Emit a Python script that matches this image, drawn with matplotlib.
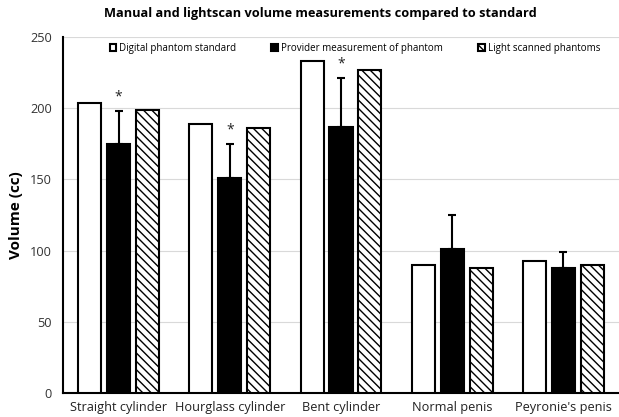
import matplotlib
matplotlib.use("Agg")
import matplotlib.pyplot as plt
import numpy as np

plt.rcParams['font.family'] = ['Open Sans', 'DejaVu Sans']
plt.rcParams['hatch.linewidth'] = 1.0

categories = ["Straight cylinder", "Hourglass cylinder", "Bent cylinder", "Normal penis", "Peyronie's penis"]
standard = [204, 189, 233, 90, 92.5]
provider = [175, 151, 187, 101, 88]
provider_err = [23, 24, 34, 24, 11]
lightscan = [199, 186, 227, 88, 90]
significant = [True, True, True, False, False]

fig = plt.figure(figsize=(6.19, 4.17), dpi=100)
ax = fig.add_axes([63/619, 1-393/417, 1-63/619, 356/417])

x = np.arange(len(categories))
w = 0.207
off = 0.26
ax.bar(x - off, standard, w, color='white', edgecolor='black', linewidth=1.5,
       label='Digital phantom standard', zorder=3)
ax.bar(x, provider, w, color='black', edgecolor='black', linewidth=1.5,
       label='Provider measurement of phantom', zorder=3)
ax.errorbar(x, provider, yerr=[np.zeros(len(x)), provider_err], fmt='none',
            ecolor='black', elinewidth=1.5, capsize=3, capthick=1.5, zorder=4)
ax.bar(x + off, lightscan, w, color='white', edgecolor='black', linewidth=1.5,
       hatch='\\\\\\\\', label='Light scanned phantoms', zorder=3)

for xi, p, e, s in zip(x, provider, provider_err, significant):
    if s:
        ax.text(xi, p + e + 10, '*', ha='center', va='center', fontsize=10,
                color='#222222', zorder=5)

ax.set_xlim(-0.5, len(categories) - 0.5)
ax.set_ylim(0, 250)
ax.set_yticks([0, 50, 100, 150, 200, 250])
ax.set_xticks(x)
ax.set_xticklabels(categories, fontsize=9.2, color='#222222')
ax.tick_params(axis='y', labelsize=9.2, length=0, pad=8, colors='#333333')
ax.tick_params(axis='x', length=0, pad=6)
ax.grid(axis='y', color='#d9d9d9', linewidth=0.8, zorder=0)
for s in ['top', 'right']:
    ax.spines[s].set_visible(False)
ax.spines['left'].set_linewidth(1.5)
ax.spines['bottom'].set_linewidth(1.5)
ax.set_ylabel('Volume (cc)', fontsize=11, fontweight='bold', labelpad=5)
fig.text(320/619, 1-14/417, 'Manual and lightscan volume measurements compared to standard',
         fontsize=9.2, fontweight='bold', ha='center', va='center')
leg = ax.legend(loc='upper center', bbox_to_anchor=(0.525, 1.008), ncol=3, frameon=False,
                fontsize=7, handlelength=0.7, handleheight=0.7, columnspacing=3.6,
                handletextpad=0.3)

fig.savefig('out.png', dpi=100)
